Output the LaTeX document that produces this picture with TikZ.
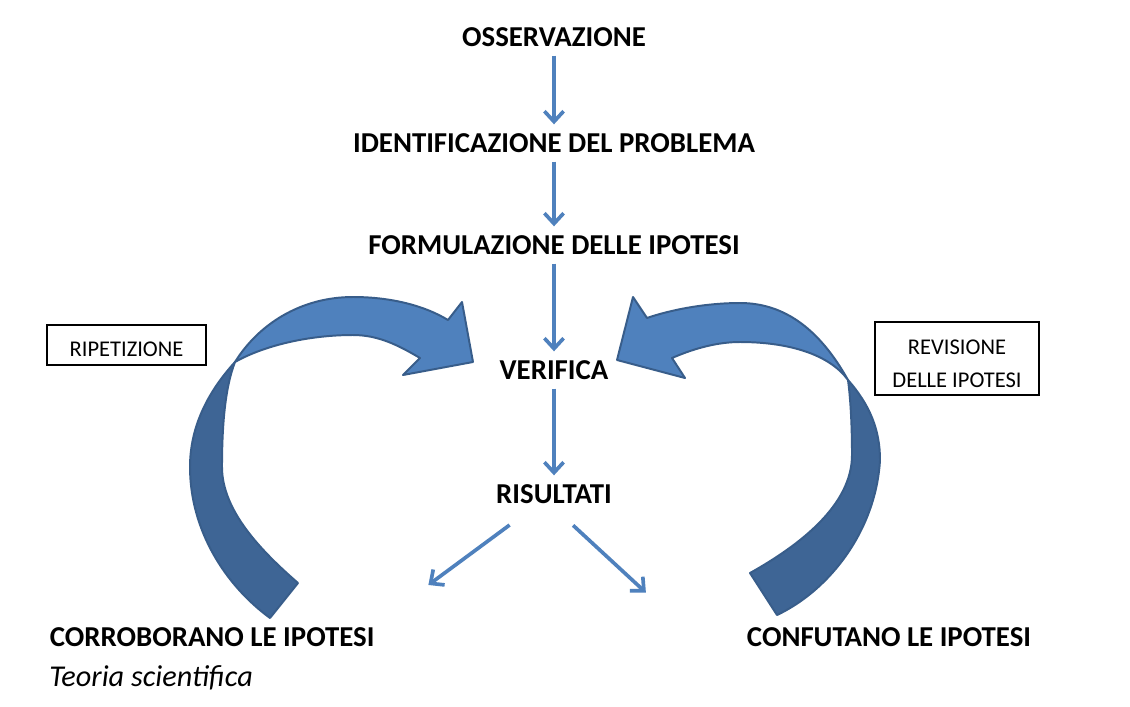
\documentclass[tikz,border=0pt]{standalone}
\usepackage{fontspec}
\setmainfont{Carlito}
\usetikzlibrary{arrows.meta, positioning, calc}
\definecolor{blue1}{RGB}{79,129,189}
\definecolor{blue2}{RGB}{62,101,149}
\definecolor{edge1}{RGB}{56,93,138}

\begin{document}
\begin{tikzpicture}[x=0.025cm, y=-0.025cm,
    stage/.style={font=\fontsize{20.5}{24}\selectfont\bfseries, inner sep=0.33em},
    note/.style={font=\fontsize{21.5}{24}\selectfont\itshape, inner sep=0pt},
    labelbox/.style={draw=black, line width=1pt, font=\fontsize{16}{23.5}\selectfont, align=center},
    flowarrow/.style={-{Straight Barb[length=2.6mm, width=4.8mm]}, line width=2.6pt, color=blue1,
      shorten <=3pt, shorten >=3pt},
    bandlight/.style={fill=blue1, draw=edge1, line width=1.4pt, line join=round},
    banddark/.style={fill=blue2, draw=edge1, line width=1.4pt, line join=round}
]
        \path[fill=white] (0,0) rectangle (1130,706);

        \node[stage, name=obs] at (554,37) {OSSERVAZIONE};
        \node[stage, name=ident] at (554,143) {IDENTIFICAZIONE DEL PROBLEMA};
        \node[stage, name=form] at (554,245) {FORMULAZIONE DELLE IPOTESI};
        \node[stage, name=ver] at (554,370) {VERIFICA};
        \node[stage, name=ris] at (554,494) {RISULTATI};

        \node[stage, name=corr, anchor=west] at (45,637) {CORROBORANO LE IPOTESI};
        \node[note, name=teoria, anchor=west] at (49,678) {Teoria scientifica};
        \node[stage, name=conf] at (889,637) {CONFUTANO LE IPOTESI};

        \node[labelbox, name=rip, minimum width=3.975cm, minimum height=1cm] at (126.5,345) {\rule{0pt}{16pt}RIPETIZIONE};
        \node[labelbox, name=rev, minimum width=4.1cm, minimum height=1.825cm] at (957,358.5) {\rule{0pt}{17.5pt}REVISIONE\\DELLE IPOTESI};

        \draw[flowarrow] (obs) -- (ident);
        \draw[flowarrow] (ident) -- (form);
        \draw[flowarrow] (form) -- (ver);
        \draw[flowarrow] (ver) -- (ris);

        \draw[flowarrow] ([shift={(-41,14)}]ris.south) -- ([shift={(-129,79)}]ris.south);
        \draw[flowarrow] ([shift={(16,14)}]ris.south) -- ([shift={(95,87)}]ris.south);

        % left loop: ripetizione
        \draw[banddark] (235,362) .. controls (205,395) and (190,430) .. (190,467)
            .. controls (190,530) and (225,585) .. (270,618) -- (298,583)
            .. controls (260,550) and (222,510) .. (222,467)
            .. controls (222,420) and (226,385) .. cycle;
        \draw[bandlight] (235,362) .. controls (258,325) and (300,297) .. (353,297)
            .. controls (392,297) and (425,306) .. (448,320) -- (462,302) -- (473,362)
            -- (403,375) -- (420,358) .. controls (398,345) and (378,335) .. (353,335)
            .. controls (310,335) and (265,345) .. cycle;

        % right loop: revisione
        \draw[banddark] (848,380) .. controls (870,405) and (880,430) .. (880,460)
            .. controls (876,530) and (830,590) .. (777,615) -- (750,573)
            .. controls (800,545) and (852,505) .. (852,455)
            .. controls (852,420) and (850,395) .. cycle;
        \draw[bandlight] (848,380) .. controls (820,330) and (785,303) .. (740,303)
            .. controls (705,303) and (670,310) .. (647,318) -- (633,297) -- (617,360)
            -- (685,378) -- (672,358) .. controls (695,348) and (718,342) .. (740,342)
            .. controls (790,342) and (830,355) .. cycle;

\end{tikzpicture}
\end{document}
